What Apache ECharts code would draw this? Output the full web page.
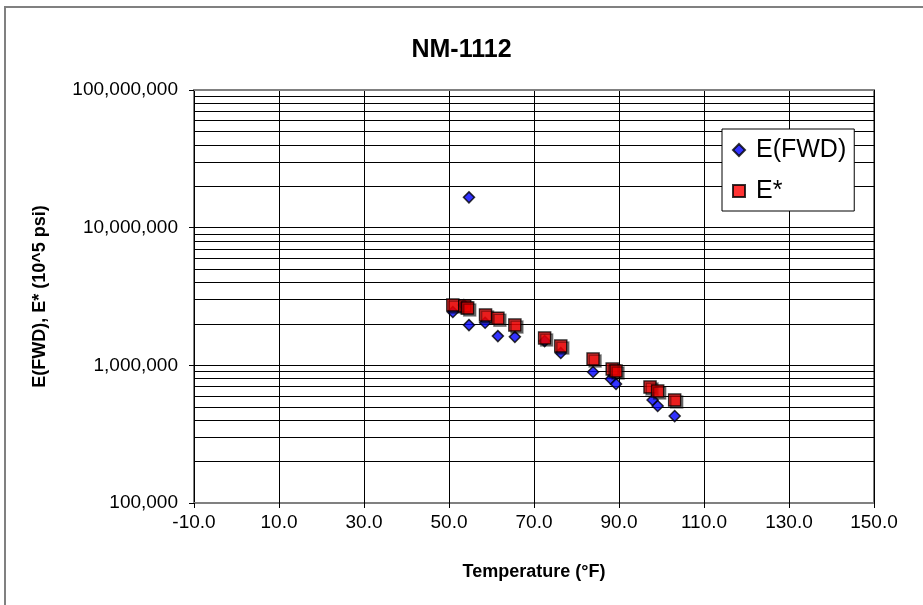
<!DOCTYPE html>
<html>
<head>
<meta charset="utf-8">
<style>
  html, body { margin: 0; padding: 0; background: #fff; }
  #chart { width: 923px; height: 605px; }
</style>
<script src="https://cdn.jsdelivr.net/npm/echarts@6/dist/echarts.min.js"></script>
</head>
<body>
<div id="chart"></div>
<script>
// Backcalculated FWD modulus vs. pavement temperature
const fwdTemp    = [50.9, 53.5, 54.7, 58.5, 61.5, 65.5, 72.5, 76.3, 83.9, 88.1, 89.3, 97.9, 99.1, 103.1, 54.7];
const fwdModulus = [2440000, 2740000, 1960000, 2040000, 1630000, 1610000, 1500000, 1230000, 894000, 795000, 732000, 560000, 506000, 428000, 16600000];

// Dynamic modulus E* at the same temperatures
const estarTemp    = [50.9, 53.7, 54.4, 58.6, 61.5, 65.5, 72.5, 76.3, 83.9, 88.4, 89.3, 97.3, 99.1, 103.1];
const estarModulus = [2740000, 2700000, 2610000, 2320000, 2200000, 1960000, 1580000, 1380000, 1110000, 940000, 909000, 696000, 651000, 560000];

// Temperature tick positions
const xTicks = [-10, 10, 30, 50, 70, 90, 110, 130, 150];

// Log-scale range and the in-between lines of each decade
const yMin = 100000, yMax = 100000000;
const yMinorLines = [];
for (let dec = yMin; dec < yMax; dec *= 10) {
  for (let m = 2; m <= 9; m++) yMinorLines.push(dec * m);
}

const FONT = '"Liberation Sans", Arial, sans-serif';

const pairs = (xs, ys) => xs.map((x, i) => [x, ys[i]]);

const chart = echarts.init(document.getElementById('chart'), null, { renderer: 'canvas' });

chart.setOption({
  backgroundColor: '#ffffff',
  animation: false,
  textStyle: { fontFamily: FONT },
  title: {
    text: 'NM-1112',
    left: 'center',
    top: 33,
    textStyle: { fontFamily: FONT, fontSize: 25, fontWeight: 'bold', color: '#000' }
  },
  graphic: [{
    type: 'rect',
    shape: { x: 5, y: 7, width: 940, height: 640 },
    style: { fill: 'none', stroke: '#808080', lineWidth: 2 },
    silent: true,
    z: -10
  }],
  legend: {
    orient: 'vertical',
    left: 722,
    top: 129,
    padding: [8, 8, 7, 10],
    itemGap: 15,
    itemWidth: 12,
    itemHeight: 12,
    backgroundColor: '#ffffff',
    borderColor: '#000000',
    borderWidth: 1,
    textStyle: { fontFamily: FONT, fontSize: 25, color: '#000', lineHeight: 26, padding: [0, 0, 0, 6] },
    data: ['E(FWD)', 'E*']
  },
  grid: { left: 194, right: 49, top: 90, bottom: 102, show: true, borderColor: '#808080', borderWidth: 2, backgroundColor: 'transparent' },
  xAxis: {
    type: 'value',
    min: xTicks[0], max: xTicks[xTicks.length - 1],
    name: 'Temperature (°F)',
    nameLocation: 'middle',
    nameGap: 60,
    nameTextStyle: { fontFamily: FONT, fontSize: 18, fontWeight: 'bold', color: '#000' },
    axisLine: { show: true, onZero: false, lineStyle: { color: '#808080', width: 2 } },
    axisTick: { show: true, inside: false, length: 5, customValues: xTicks, lineStyle: { color: '#000' } },
    axisLabel: { fontFamily: FONT, fontSize: 19, color: '#000', margin: 10, customValues: xTicks, formatter: v => v.toFixed(1) },
    splitLine: { show: false }
  },
  yAxis: {
    type: 'log',
    logBase: 10,
    min: yMin, max: yMax,
    name: 'E(FWD), E* (10^5 psi)',
    nameLocation: 'middle',
    nameGap: 145,
    nameTextStyle: { fontFamily: FONT, fontSize: 18, fontWeight: 'bold', color: '#000' },
    axisLine: { show: true, onZero: false, lineStyle: { color: '#000', width: 1 } },
    axisTick: { show: true, inside: false, length: 5, lineStyle: { color: '#000' } },
    axisLabel: { fontFamily: FONT, fontSize: 19, color: '#000', margin: 16, formatter: v => Math.round(v).toLocaleString('en-US') },
    splitLine: { show: true, lineStyle: { color: '#000', width: 1 } }
  },
  series: [
    {
      name: 'E(FWD)',
      type: 'scatter',
      symbol: 'diamond',
      symbolSize: 11,
      itemStyle: { color: '#0000ff', borderColor: '#000', borderWidth: 1.5 },
      data: pairs(fwdTemp, fwdModulus),
      markLine: {
        silent: true,
        symbol: 'none',
        label: { show: false },
        lineStyle: { color: '#000', width: 1, type: 'solid' },
        data: yMinorLines.map(v => ({ yAxis: v }))
          .concat(xTicks.slice(1).map(v => ({ xAxis: v })))
          .concat([{ yAxis: yMax, lineStyle: { color: '#808080', width: 2, type: 'solid' } }]),
        z: 1
      },
      z: 3
    },
    {
      name: 'E*',
      type: 'scatter',
      symbol: 'rect',
      symbolSize: 12,
      itemStyle: {
        color: '#ff0000', borderColor: '#000', borderWidth: 1.5,
        shadowColor: 'rgba(0,0,0,0.55)', shadowOffsetX: 2, shadowOffsetY: 2, shadowBlur: 0
      },
      data: pairs(estarTemp, estarModulus),
      z: 4
    }
  ]
});
</script>
</body>
</html>
